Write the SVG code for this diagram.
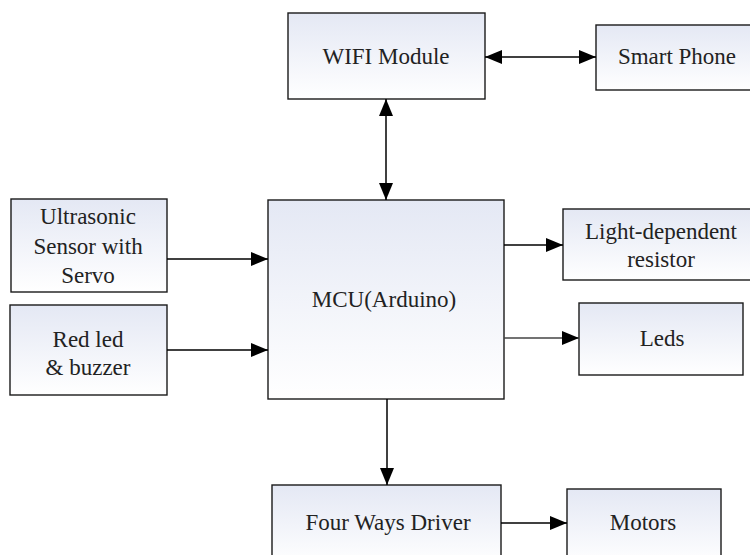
<svg xmlns="http://www.w3.org/2000/svg" width="750" height="555" viewBox="0 0 750 555">
<defs>
<linearGradient id="g" x1="0" y1="0" x2="0" y2="1">
<stop offset="0" stop-color="#e4e8f4"/>
<stop offset="1" stop-color="#ffffff"/>
</linearGradient>
<marker id="ah" markerUnits="userSpaceOnUse" markerWidth="17" markerHeight="14" refX="17" refY="7" orient="auto-start-reverse">
<path d="M0,0 L17,7 L0,14 z" fill="#000"/>
</marker>
<style>
.box{fill:url(#g);stroke:#1a1a1a;stroke-width:1.4}
.t{font-size:23px;fill:#222;text-anchor:middle}
.c{stroke:#000;stroke-width:1.5;fill:none;marker-end:url(#ah)}
.bi{marker-start:url(#ah)}
</style>
</defs>
<rect width="750" height="555" fill="#fff"/>
<g font-family="'Liberation Serif', 'DejaVu Serif', serif">
<g id="wifi"><rect class="box" x="288" y="13" width="197" height="86"/><text class="t" x="386" y="64">WIFI Module</text></g>
<g id="phone"><rect class="box" x="596" y="25" width="160" height="65"/><text class="t" x="677" y="64">Smart Phone</text></g>
<g id="ultra"><rect class="box" x="11" y="199" width="156" height="93"/><text class="t" x="88" y="224">Ultrasonic</text><text class="t" x="88" y="254">Sensor with</text><text class="t" x="88" y="283">Servo</text></g>
<g id="redled"><rect class="box" x="10" y="305" width="157" height="90"/><text class="t" x="88" y="347">Red led</text><text class="t" x="88" y="375">&amp; buzzer</text></g>
<g id="mcu"><rect class="box" x="268" y="200" width="236" height="199"/><text class="t" x="384" y="307">MCU(Arduino)</text></g>
<g id="ldr"><rect class="box" x="563" y="209" width="195" height="71"/><text class="t" x="661" y="239">Light-dependent</text><text class="t" x="661" y="267">resistor</text></g>
<g id="leds"><rect class="box" x="579" y="303" width="164" height="72"/><text class="t" x="662" y="346">Leds</text></g>
<g id="driver"><rect class="box" x="272" y="485" width="229" height="80"/><text class="t" x="388" y="530">Four Ways Driver</text></g>
<g id="motors"><rect class="box" x="567" y="489" width="154" height="76"/><text class="t" x="643" y="530">Motors</text></g>
</g>
<g id="connectors">
<path class="c bi" d="M485,57 L596,57"/>
<path class="c bi" d="M386,99 L386,200"/>
<path class="c" d="M167,259 L268,259"/>
<path class="c" d="M167,350 L268,350"/>
<path class="c" d="M504,245 L563,245"/>
<path class="c" d="M504,338 L579,338" style="stroke:#444"/>
<path class="c" d="M387,399 L387,485"/>
<path class="c" d="M501,523 L567,523"/>
</g>
</svg>
